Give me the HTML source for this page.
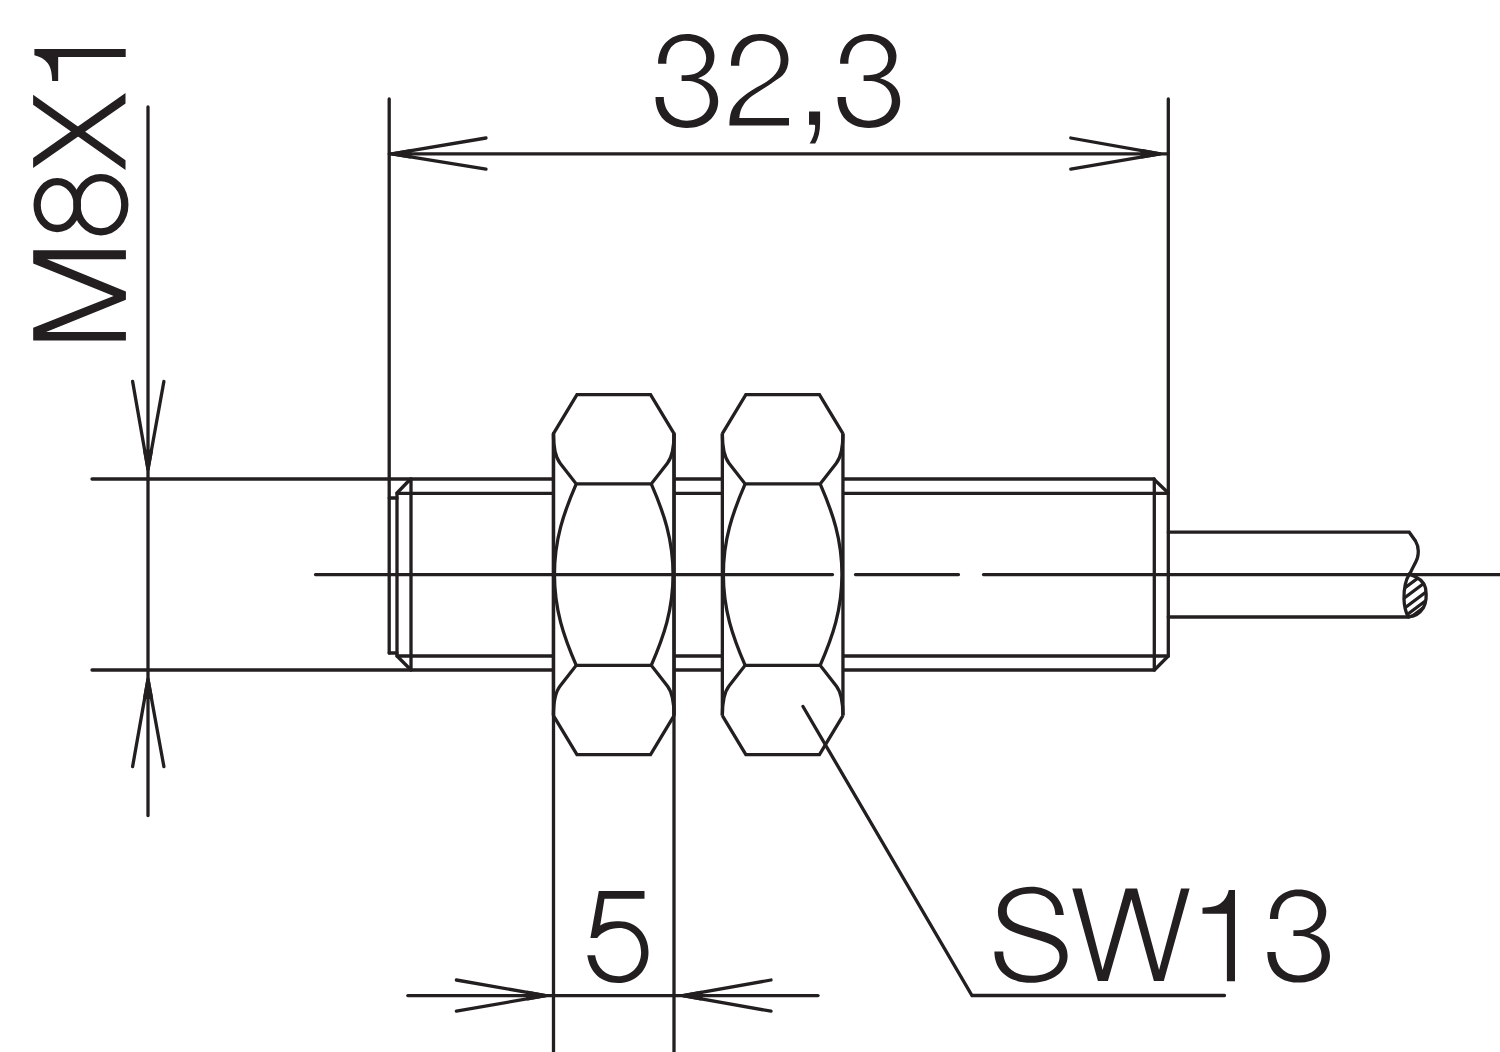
<!DOCTYPE html>
<html><head><meta charset="utf-8"><title>M8X1 sensor drawing</title>
<style>
html,body{margin:0;padding:0;background:#fff;width:1500px;height:1052px;overflow:hidden}
svg{display:block}
</style></head>
<body>
<svg width="1500" height="1052" viewBox="0 0 1500 1052">
<g fill="none" stroke="#231f20" stroke-width="3.3" stroke-linecap="round" stroke-linejoin="miter">
<path d="M92,479 L1153.7,479 L1168.3,493 M92,670 L1154.4,670 L1168.3,656"/>
<path d="M397,493.3 L1168.3,493.3 M397,656 L1168.3,656"/>
<path d="M411,479 L411,670 M410.5,479 L397,493 L397,656 L411,670"/>
<path d="M389.2,498 L397,498 M389.2,653 L397,653"/>
<path d="M1154.3,479 L1154.3,670"/>
<path d="M389.2,99 L389.2,653 M1168.3,99 L1168.3,656"/>
<path d="M1168.3,532.2 L1409.2,532.2 L1415.5,541 C1418.5,546 1418.6,553 1417.5,557.5 C1416,563 1412,568 1409.8,574.3 M1168.3,617 L1409,617"/>
</g>
<g fill="none" stroke="#231f20" stroke-width="3.3" stroke-linejoin="miter">
<g transform="translate(613.75,574.6)">
<path d="M-60.3,-141 L-36.8,-180 L36.8,-180 L60.3,-141 L60.3,141 L36.8,180 L-36.8,180 L-60.3,141 Z" fill="#fff" stroke="none"/>
<path d="M-60.3,-141 L-36.8,-180 L36.8,-180 L60.3,-141 M-60.3,141 L-36.8,180 L36.8,180 L60.3,141 M-60.3,-141 L-60.3,141 M60.3,-141 L60.3,141"/>
<path d="M-60.3,-141 Q-60.3,-119.8 -53.65,-111.3 L-37.5,-90.7 L37.5,-90.7 L53.65,-111.3 Q60.3,-119.8 60.3,-141 M-60.3,141 Q-60.3,119.8 -53.65,111.3 L-37.5,90.7 L37.5,90.7 L53.65,111.3 Q60.3,119.8 60.3,141"/>
<path d="M-37.5,-90.7 C-50,-62 -59.3,-35 -59.3,0 C-59.3,35 -50,62 -37.5,90.7 M37.5,-90.7 C50,-62 59.3,-35 59.3,0 C59.3,35 50,62 37.5,90.7"/>
</g>
<g transform="translate(782.65,574.6)">
<path d="M-60.3,-141 L-36.8,-180 L36.8,-180 L60.3,-141 L60.3,141 L36.8,180 L-36.8,180 L-60.3,141 Z" fill="#fff" stroke="none"/>
<path d="M-60.3,-141 L-36.8,-180 L36.8,-180 L60.3,-141 M-60.3,141 L-36.8,180 L36.8,180 L60.3,141 M-60.3,-141 L-60.3,141 M60.3,-141 L60.3,141"/>
<path d="M-60.3,-141 Q-60.3,-119.8 -53.65,-111.3 L-37.5,-90.7 L37.5,-90.7 L53.65,-111.3 Q60.3,-119.8 60.3,-141 M-60.3,141 Q-60.3,119.8 -53.65,111.3 L-37.5,90.7 L37.5,90.7 L53.65,111.3 Q60.3,119.8 60.3,141"/>
<path d="M-37.5,-90.7 C-50,-62 -59.3,-35 -59.3,0 C-59.3,35 -50,62 -37.5,90.7 M37.5,-90.7 C50,-62 59.3,-35 59.3,0 C59.3,35 50,62 37.5,90.7"/>
</g>
</g>
<g fill="none" stroke="#231f20" stroke-width="3.3" stroke-linecap="round">
<path d="M553.5,433.5 L553.5,1052 M674,433.5 L674,1052"/>
<path d="M315.5,574.6 L832.5,574.6 M855.5,574.6 L958.5,574.6 M983.5,574.6 L1500,574.6"/>
<path d="M389.2,153.8 L1168.3,153.8"/>

<path d="M148,107 L148,815.5"/>

<path d="M407.8,995.6 L818,995.6"/>

<path d="M803,706.5 L972,995.5 L1224.5,995.5"/>
</g>
<defs><clipPath id="leaf"><path d="M1409.3,574.1 C1405,581 1403.8,590 1404,599 C1404.2,607 1405.5,612 1408.3,616.8 C1414,616.5 1420,613 1423.5,607.5 C1426.5,602 1426.5,594 1425.5,588 C1424,581 1418,577 1409.3,574.1 Z"/></clipPath></defs>
<g fill="none" stroke="#231f20" stroke-width="3.3">
<g clip-path="url(#leaf)" stroke-width="3.2">
<path d="M1397,593.8 L1433,566.8 M1397,603.5 L1433,576.5 M1397,613.8 L1433,586.8 M1397,622.2 L1433,595.2"/>
<path d="M1397,629 L1433,602" stroke-width="5.5"/>
</g>
<path d="M1409.3,574.1 C1405,581 1403.8,590 1404,599 C1404.2,607 1405.5,612 1408.3,616.8 C1414,616.5 1420,613 1423.5,607.5 C1426.5,602 1426.5,594 1425.5,588 C1424,581 1418,577 1409.3,574.1 Z"/>
</g>
<g fill="none" stroke="#231f20" stroke-width="3.3" stroke-linecap="round" stroke-linejoin="round">
<path d="M132.60,381.40 L148.00,469.20 L163.90,381.40"/>
<path d="M148.00,469.20 L144.84,451.20 L151.26,451.20 Z" fill="#231f20"/>
<path d="M132.60,766.60 L148.00,679.40 L163.90,766.60"/>
<path d="M148.00,679.40 L144.82,697.40 L151.28,697.40 Z" fill="#231f20"/>
<path d="M486.00,138.00 L392.00,153.80 L486.00,169.20"/>
<path d="M392.00,153.80 L410.00,150.77 L410.00,156.75 Z" fill="#231f20"/>
<path d="M1070.80,138.00 L1160.00,153.80 L1070.80,169.20"/>
<path d="M1160.00,153.80 L1142.00,150.61 L1142.00,156.91 Z" fill="#231f20"/>
<path d="M456.40,980.00 L545.60,995.60 L456.40,1011.20"/>
<path d="M545.60,995.60 L527.60,992.45 L527.60,998.75 Z" fill="#231f20"/>
<path d="M771.00,980.00 L683.00,995.60 L771.00,1011.20"/>
<path d="M683.00,995.60 L701.00,992.41 L701.00,998.79 Z" fill="#231f20"/>
</g>
<g fill="#231f20" stroke="#fff" stroke-width="2.6" stroke-linejoin="round" style="paint-order:fill stroke">
<path d="M821.4 110.2V122.32Q821.4 129.97 820.07 135.09Q818.73 140.21 815.93 144.9H807.3Q813.89 135.09 813.89 126H807.72V110.2Z"/>
</g>
<g fill="none" stroke="#231f20" stroke-width="7.3">
<ellipse cx="57.25" cy="205.1" rx="20.1" ry="23.4"/>
<ellipse cx="100.85" cy="204.7" rx="23.95" ry="27.1"/>
</g>
<g fill="#231f20" stroke="none">
<path d="M1235 889.9L1235 981.3L1226.9 981.3L1226.9 913.7L1202.5 913.7L1202.5 907.7C1210.5 907.5 1216.5 906.5 1221 903.1C1225 899.9 1227.5 895.4 1228.8 889.9Z"/><path d="M34.4 49.1L125.7 49.1L125.7 57.08L58.17 57.08L58.17 81.1L52.18 81.1C51.98 73.22 50.98 67.32 47.59 62.88C44.39 58.95 39.89 56.48 34.4 55.2Z"/><path d="M658.1 63.7C658.1 46 670 33.9 686.8 33.9C703 33.9 714.5 44 714.5 56C714.5 67 708 75 698 78.2C711 81.5 718.2 90 718.2 101C718.2 117 705 128 686.8 128C667 128 655.5 116 655.5 97.1L663.8 97.1C663.8 111 673 120.7 686.8 120.7C700 120.7 709.8 112 709.8 100.8C709.8 89 700 80.9 686.8 80.9L681.6 80.9L681.6 75.2L686 75.2C698 75.2 706.2 68 706.2 58C706.2 48 698 40.7 686 40.7C673 40.7 666.4 50 666.4 63.7Z"/><path d="M840.1 63.7C840.1 46 852 33.9 868.8 33.9C885 33.9 896.5 44 896.5 56C896.5 67 890 75 880 78.2C893 81.5 900.2 90 900.2 101C900.2 117 887 128 868.8 128C849 128 837.5 116 837.5 97.1L845.8 97.1C845.8 111 855 120.7 868.8 120.7C882 120.7 891.8 112 891.8 100.8C891.8 89 882 80.9 868.8 80.9L863.6 80.9L863.6 75.2L868 75.2C880 75.2 888.2 68 888.2 58C888.2 48 880 40.7 868 40.7C855 40.7 848.4 50 848.4 63.7Z"/><path d="M1269.9 918.98C1269.9 901.47 1281.8 889.5 1298.6 889.5C1314.8 889.5 1326.3 899.49 1326.3 911.37C1326.3 922.25 1319.8 930.16 1309.8 933.33C1322.8 936.59 1330 945 1330 955.89C1330 971.72 1316.8 982.6 1298.6 982.6C1278.8 982.6 1267.3 970.73 1267.3 952.03L1275.6 952.03C1275.6 965.78 1284.8 975.38 1298.6 975.38C1311.8 975.38 1321.6 966.77 1321.6 955.69C1321.6 944.01 1311.8 936 1298.6 936L1293.4 936L1293.4 930.36L1297.8 930.36C1309.8 930.36 1318 923.24 1318 913.34C1318 903.45 1309.8 896.23 1297.8 896.23C1284.8 896.23 1278.2 905.43 1278.2 918.98Z"/><path d="M731,65.8 L739.3,65.8 C739.3,50.5 748,40.7 759.8,40.7 C772,40.7 780.6,49 780.6,60 C780.6,70 774,78 762,84.5 C748,92 736,100 731.5,110.7 C730,115 729.4,120 729.4,125.4 L789,125.4 L789,118 L739.3,118 C740,108 745,101 752,96 C765,87.5 777,80 782.7,75.2 C786.5,71 788.5,66 788.5,59.5 C788.5,44 776,33.9 759.8,33.9 C742,33.9 731,46 731,65.8 Z"/><path d="M33.2,340.5 L33.2,327.7 L113.6,295.9 L33.2,263.5 L33.2,250.2 L125.9,250.2 L125.9,259.3 L47,259.3 L125.9,291.6 L125.9,299.7 L46.1,332 L125.9,332 L125.9,340.5Z"/><path d="M1063.8,915 C1062.5,897 1049,886.8 1031,886.8 C1011,886.8 997.9,898 997.9,911.5 C997.9,926 1008,931 1025,936 L1040,940.5 C1053,944.5 1059.5,948 1059.5,957 C1059.5,968 1048,975.8 1031,975.8 C1013,975.8 1003.2,966 1003.2,951.6 L994.4,951.6 C994.4,972 1010,982.8 1031,982.8 C1053,982.8 1067.6,971 1067.6,956 C1067.6,942 1058,936 1042,931.5 L1025,926.5 C1013,923 1006.8,919 1006.8,911 C1006.8,900 1017,893.5 1031,893.5 C1045,893.5 1055,901 1055.4,915 Z"/><path d="M1072.3,888.4 L1081.7,888.4 L1102.6,969.9 L1125.6,888.4 L1137.1,888.4 L1159.1,969.9 L1181,888.4 L1189.6,888.4 L1163.8,980.9 L1153.9,980.9 L1131.4,899.3 L1107.9,980.9 L1097.9,980.9 Z"/><path d="M33.1,94.8 L125.5,160.3 L125.5,170.1 L33.1,104.7 Z"/><path d="M125.5,93.1 L33.1,158.1 L33.1,168 L125.5,103.4 Z"/><path d="M598.8,891 L644.5,891 L644.5,898.8 L604.5,898.8 L600.2,925.5 C604.5,922.6 611,921.3 619.2,921.3 C636,921.3 648.5,934 648.5,952.2 C648.5,970 636,983 618.1,983 C601,983 590,973 587.3,955.3 L595.1,955.3 C597,968 606,976.2 618.1,976.2 C631.5,976.2 641.1,966 641.1,952.2 C641.1,938 631.5,928.1 619.2,928.1 C610,928.1 602,932 597.2,938 L590.4,938 Z"/>
</g>
</svg>
</body></html>
